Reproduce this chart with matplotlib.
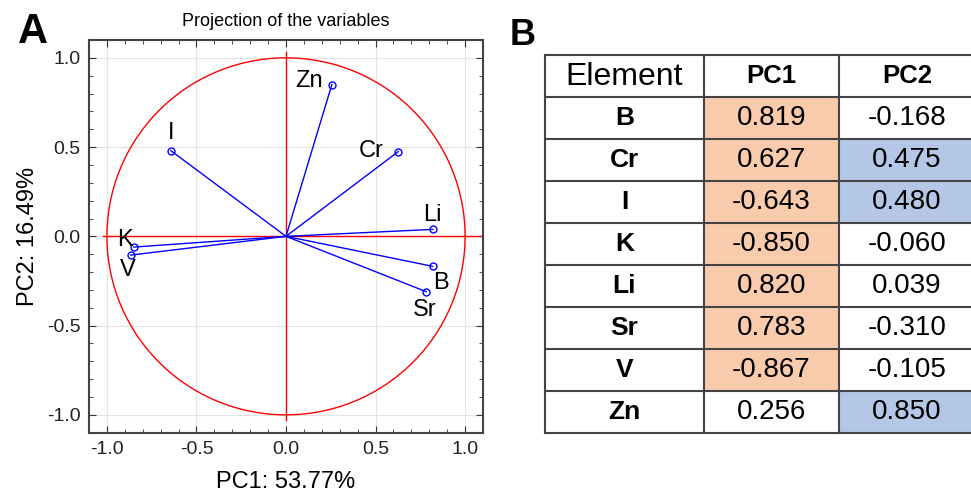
import numpy as np
import matplotlib
matplotlib.use("Agg")
import matplotlib.pyplot as plt
from matplotlib.patches import Rectangle
from matplotlib.ticker import MultipleLocator

plt.rcParams["font.family"] = ["Liberation Sans", "DejaVu Sans"]
plt.rcParams["axes.unicode_minus"] = False

elements = ["B", "Cr", "I", "K", "Li", "Sr", "V", "Zn"]
pc1 = [0.819, 0.627, -0.643, -0.850, 0.820, 0.783, -0.867, 0.256]
pc2 = [-0.168, 0.475, 0.480, -0.060, 0.039, -0.310, -0.105, 0.850]
pc1_label = "PC1: 53.77%"
pc2_label = "PC2: 16.49%"
threshold = 0.4

# label placement relative to each point: (dx, dy, ha, va)
label_pos = {
    "B": (0.0, -0.095, "left", "center"),
    "Cr": (-0.08, 0.005, "right", "center"),
    "I": (0.0, 0.04, "center", "bottom"),
    "K": (-0.005, 0.04, "right", "center"),
    "Li": (0.0, 0.08, "center", "center"),
    "Sr": (-0.01, -0.10, "center", "center"),
    "V": (-0.015, -0.085, "center", "center"),
    "Zn": (-0.05, 0.02, "right", "center"),
}

W, H = 971, 492
fig = plt.figure(figsize=(W / 100, H / 100), dpi=100)

# ---- panel A
ax = fig.add_axes([89 / W, (H - 432.7) / H, (483 - 89) / W, (432.7 - 40) / H])
ax.set_xlim(-1.1, 1.1)
ax.set_ylim(-1.1, 1.1)
ax.grid(True, color="#e3e3e3", lw=0.8)
ax.set_axisbelow(True)

t = np.linspace(0, 2 * np.pi, 400)
ax.plot(np.cos(t), np.sin(t), color="red", lw=1)
ax.plot([-1.02, 1.1], [0, 0], color="red", lw=1)
ax.plot([0, 0], [-1.03, 1.03], color="red", lw=1)

for name, x, y in zip(elements, pc1, pc2):
    ax.plot([0, x], [0, y], color="blue", lw=1)
    ax.plot(x, y, "o", mfc="none", mec="blue", ms=5, mew=1)
    dx, dy, ha, va = label_pos[name]
    ax.text(x + dx, y + dy, name, fontsize=17, ha=ha, va=va)

ax.xaxis.set_major_locator(MultipleLocator(0.5))
ax.yaxis.set_major_locator(MultipleLocator(0.5))
ax.xaxis.set_minor_locator(MultipleLocator(0.1))
ax.yaxis.set_minor_locator(MultipleLocator(0.1))
ax.tick_params(which="both", direction="in", top=True, right=True, colors="#333333")
ax.tick_params(which="major", length=5, labelsize=14, labelcolor="#222222", pad=6)
ax.tick_params(which="minor", length=3)
for s in ax.spines.values():
    s.set_color("#444444")
    s.set_linewidth(1.5)
ax.set_title("Projection of the variables", fontsize=13, pad=10)
ax.set_xlabel(pc1_label, fontsize=17, labelpad=9)
ax.set_ylabel(pc2_label, fontsize=17, labelpad=6)
fig.text(18 / W, 1 - 12 / H, "A", fontsize=30, fontweight="bold", va="top")

# ---- panel B (table)
col_edges = [0, 159, 294, 430]
n_rows = len(elements) + 1
tb = fig.add_axes([545 / W, (H - 432.7) / H, (col_edges[-1]) / W, (432.7 - 55) / H])
tb.set_xlim(col_edges[0], col_edges[-1])
tb.set_ylim(n_rows, 0)
tb.axis("off")

orange = "#f8cbad"
blue = "#b4c7e7"
cx = [(col_edges[k] + col_edges[k + 1]) / 2 for k in range(3)]
for i, (name, a, b) in enumerate(zip(elements, pc1, pc2)):
    r = i + 1
    if abs(a) >= threshold:
        tb.add_patch(Rectangle((col_edges[1], r), col_edges[2] - col_edges[1], 1, color=orange, lw=0))
    if abs(b) >= threshold:
        tb.add_patch(Rectangle((col_edges[2], r), col_edges[3] - col_edges[2], 1, color=blue, lw=0))
    tb.text(cx[0], r + 0.5, name, fontsize=19, fontweight="bold", ha="center", va="center")
    tb.text(cx[1], r + 0.5, f"{a:.3f}", fontsize=20, ha="center", va="center")
    tb.text(cx[2], r + 0.5, f"{b:.3f}", fontsize=20, ha="center", va="center")

tb.text(cx[0], 0.52, "Element", fontsize=23, ha="center", va="center")
tb.text(cx[1], 0.5, "PC1", fontsize=18.5, fontweight="bold", ha="center", va="center")
tb.text(cx[2], 0.5, "PC2", fontsize=18.5, fontweight="bold", ha="center", va="center")

line_kw = dict(color="#444444", lw=1.5, clip_on=False)
for r in range(n_rows + 1):
    tb.plot([col_edges[0], col_edges[-1]], [r, r], **line_kw)
for c in col_edges:
    tb.plot([c, c], [0, n_rows], **line_kw)

fig.text(510 / W, 1 - 18 / H, "B", fontsize=26, fontweight="bold", va="top")

fig.savefig("out.png", dpi=100)
